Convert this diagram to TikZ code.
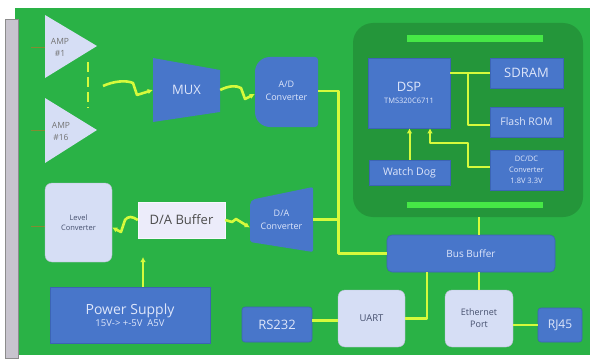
\documentclass[tikz,border=0pt]{standalone}
\usepackage{fontspec}
\setmainfont{Open Sans}
\usetikzlibrary{arrows.meta}
\definecolor{bggreen}{RGB}{42,178,70}
\definecolor{grpgreen}{RGB}{36,150,58}
\definecolor{bargreen}{RGB}{70,232,70}
\definecolor{boxblue}{RGB}{72,118,202}
\definecolor{boxedge}{RGB}{60,100,180}
\definecolor{lav}{RGB}{214,222,245}
\definecolor{paler}{RGB}{236,236,250}
\definecolor{wirecol}{RGB}{214,250,60}
\definecolor{txtlight}{RGB}{222,230,250}
\definecolor{txtdark}{RGB}{70,80,110}
\definecolor{stripgray}{RGB}{200,196,206}
\definecolor{tickcol}{RGB}{130,140,50}
\newcommand{\fsz}[2]{\fontsize{#1}{#2}\selectfont}
\begin{document}
\begin{tikzpicture}[x=1pt,y=-1pt,
  blubox/.style={fill=boxblue, draw=boxedge, line width=0.6pt, text=txtlight, inner sep=0pt, align=center},
  lavbox/.style={fill=lav, draw=lav!85!black, line width=0.4pt, text=txtdark, inner sep=0pt, align=center, rounded corners=7pt},
  anchorbox/.style={inner sep=0pt, draw=none},
  wire/.style={draw=wirecol, line width=2.6pt, line join=round},
  thinwire/.style={draw=wirecol, line width=2pt, line join=round},
  tip/.style={-{Latex[length=5pt,width=5.5pt]}},
  labtext/.style={inner sep=0pt, align=center}
]
\useasboundingbox (0,0) rectangle (599,361);
\fill[white] (0,0) rectangle (599,361);
% board
\fill[bggreen] (15,8) rectangle (590,355);
\fill[stripgray] (5,19) rectangle (18,358);
\draw[black!45, line width=0.6pt] (5,19) rectangle (18,358);

% DSP group
\node[anchorbox, fill=grpgreen, rounded corners=20pt, minimum width=230pt, minimum height=194pt] (grp) at (468,120) {};
\node[anchorbox, fill=bargreen, minimum width=136pt, minimum height=7pt] (topbar) at (475,38.5) {};
\node[anchorbox, fill=bargreen, minimum width=136pt, minimum height=6pt] (botbar) at (475,205) {};

% amplifiers
\fill[lav] (45,15) -- (97,46) -- (45,78) -- cycle;
\fill[lav] (45,98) -- (97,130) -- (45,163) -- cycle;
\node[labtext, text=black!55, font=\fsz{8.5}{12}] (amp1) at (60,47) {AMP\\\#1};
\node[labtext, text=black!55, font=\fsz{8.5}{12}] (amp16) at (61,131) {AMP\\\#16};
\coordinate (dashtop) at (88,62);
\coordinate (dashbot) at (88,108);
\draw[draw=wirecol, line width=2pt, dash pattern=on 10pt off 5pt] (dashtop) -- (dashbot);
\draw[tickcol, line width=0.8pt] (31,47) -- (45,47);
\draw[tickcol, line width=0.8pt] (31,130) -- (45,130);
\draw[tickcol, line width=0.8pt] (31,226) -- (45,226);

% MUX
\fill[boxblue] (153,58) -- (220,70) -- (220,112) -- (153,122) -- cycle;
\node[anchorbox, minimum width=67pt, minimum height=64pt, text=txtlight, font=\fsz{13}{14}] (mux) at (186.5,90) {MUX};

% A/D converter
\fill[boxblue] (286,57) [rounded corners=15pt] -- (255,57) -- (255,127) -- (286,127) [rounded corners=3pt] -- (318,127) -- (318,57) -- cycle;
\node[anchorbox, minimum width=63pt, minimum height=70pt, text=txtlight, align=center, font=\fsz{9}{13}] (adc) at (286.5,91) {A/D\\Converter};

% D/A converter
\fill[boxblue] (250,221) [rounded corners=5pt] -- (250,200) [rounded corners=2pt] -- (313,187) -- (313,252) -- (250,242) [sharp corners] -- cycle;
\node[anchorbox, minimum width=63pt, minimum height=65pt, text=txtlight, align=center, font=\fsz{9}{13}] (dac) at (281.5,219.5) {D/A\\Converter};

% D/A buffer
\node[anchorbox, fill=paler, draw=white!80!lav, minimum width=87pt, minimum height=36pt, text=black!70, font=\fsz{13}{14}] (dabuf) at (181.5,220) {D/A Buffer};

% level converter
\node[lavbox, minimum width=67pt, minimum height=79pt, font=\fsz{7.5}{10}] (lvl) at (78.5,222.5) {Level\\Converter};

% power supply
\node[blubox, minimum width=160pt, minimum height=56pt] (ps) at (130,315) {{\fsz{14}{15}Power Supply}\\{\fsz{9.5}{11}15V-> +-5V\ \ A5V}};
\coordinate (pwrtip) at (143,257);

% DSP and peripherals
\node[blubox, minimum width=82pt, minimum height=70pt] (dsp) at (409,93) {{\fsz{13}{15}DSP}\\{\fsz{7.5}{9}TMS320C6711}};
\node[blubox, minimum width=73pt, minimum height=30pt, font=\fsz{13}{14}] (sdram) at (526.5,73) {SDRAM};
\node[blubox, minimum width=73pt, minimum height=30pt, font=\fsz{10.5}{12}] (flash) at (526.5,122) {Flash ROM};
\node[blubox, minimum width=73pt, minimum height=40pt, font=\fsz{7.5}{11}] (dcdc) at (526.5,170) {DC/DC\\Converter\\1.8V\ 3.3V};
\node[blubox, minimum width=81pt, minimum height=25pt, font=\fsz{10.5}{12}] (wd) at (409.5,172.5) {Watch Dog};

% bus and interfaces
\node[blubox, rounded corners=5pt, minimum width=168pt, minimum height=37pt, font=\fsz{10}{12}] (bus) at (471,253.5) {Bus Buffer};
\node[blubox, rounded corners=3pt, minimum width=70pt, minimum height=35pt, font=\fsz{13}{14}] (rs232) at (277,324.5) {RS232};
\node[lavbox, minimum width=67pt, minimum height=57pt, font=\fsz{9.5}{12}] (uart) at (371.5,318.5) {UART};
\node[lavbox, minimum width=68pt, minimum height=57pt, font=\fsz{9}{12}] (eth) at (479,318.5) {Ethernet\\Port};
\node[blubox, rounded corners=3pt, minimum width=44pt, minimum height=34pt, font=\fsz{12}{13}] (rj45) at (560,325) {RJ45};

% connectors
\coordinate (ampout) at (103,86);
\draw[wire, tip] (ampout) .. controls (114,81) and (126,80) .. (133,83) -- (137,95) -- (mux.west);
\draw[wire, tip] (mux.east) .. controls (228,86) and (236,85) .. (241,88) -- (245,99) -- ([yshift=-3pt]adc.west);
\draw[wire, tip] (dabuf.east) -- (232,222) -- (236,219) -- ([yshift=-8pt]dac.west);
\draw[wire, tip] (dabuf.west) .. controls (132,216) and (128,216) .. (125,220) -- (121,232) -- ([yshift=-5pt]lvl.east);
\draw[draw=wirecol, line width=1.8pt, tip] ([xshift=13pt]ps.north) -- (pwrtip);
\draw[wire] (adc.east) -- ++(20,0) |- (bus.west);
\draw[wire] (dac.east) -- ++(25,0);
\draw[wire] (grp.south -| eth) -- (bus.north -| eth);
\draw[wire] (bus.south -| eth) -- (eth.north);
\draw[wire] (uart.east) -| ([xshift=-44pt]bus.south);
\draw[wire] ([yshift=-2pt]uart.west -| rs232.east) -- ([yshift=-2pt]uart.west);
\draw[wire] (rj45.west -| eth.east) -- (rj45.west);
\draw[thinwire] (dsp.east |- sdram.west) -- (sdram.west);
\draw[thinwire] (468,73) |- ([yshift=-3pt]flash.west);
\draw[thinwire, tip] (wd.north) -- (wd.north |- dsp.south);
\draw[thinwire, tip] ([yshift=3pt]dcdc.west) -- ++(-22,0) |- (430,143) -- ([xshift=21pt]dsp.south);
\end{tikzpicture}
\end{document}
